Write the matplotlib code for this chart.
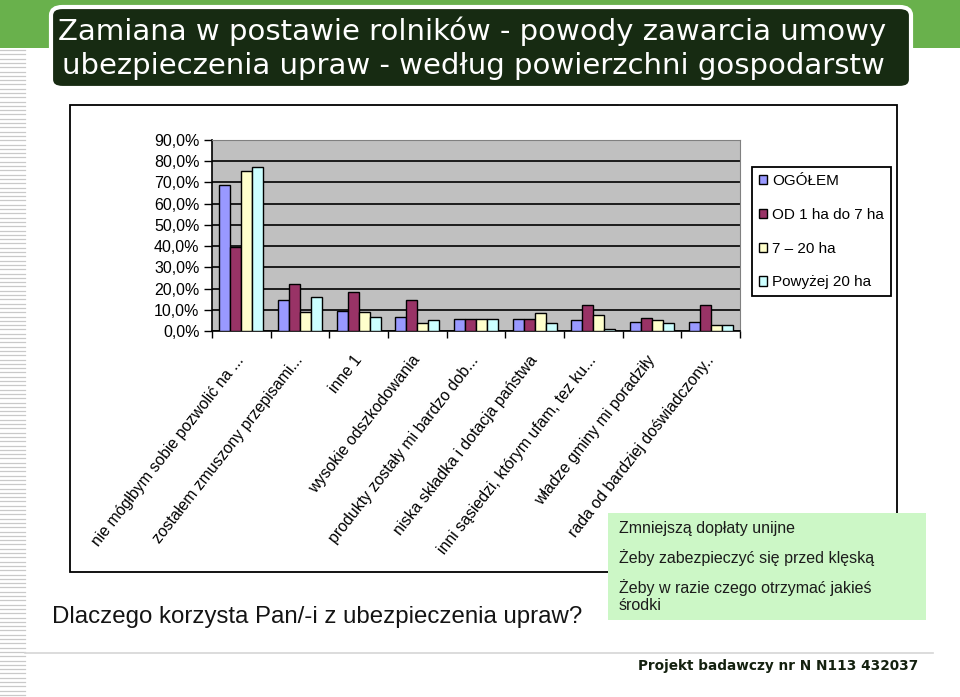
import matplotlib
matplotlib.use("Agg")
import matplotlib.pyplot as plt
import matplotlib.patches as mpatches
from matplotlib.lines import Line2D
import numpy as np

# ── Data ──────────────────────────────────────────────────
categories = [
    "nie mógłbym sobie pozwolić na ...",
    "zostałem zmuszony przepisami...",
    "inne 1",
    "wysokie odszkodowania",
    "produkty zostały mi bardzo dob...",
    "niska składka i dotacja państwa",
    "inni sąsiedzi, którym ufam, tez ku...",
    "władze gminy mi poradziły",
    "rada od bardziej doświadczony..",
]
series_names = ["OGÓŁEM", "OD 1 ha do 7 ha", "7 – 20 ha", "Powyżej 20 ha"]
ogolem = [68.9, 14.5, 9.6, 6.8, 5.7, 5.7, 5.2, 4.4, 4.4]
od_1_7 = [39.8, 22.2, 18.3, 14.5, 5.7, 5.7, 12.1, 6.0, 12.1]
od_7_20 = [75.6, 9.1, 9.1, 3.6, 5.7, 8.3, 7.5, 5.2, 3.0]
powyzej_20 = [77.2, 15.9, 6.8, 5.2, 5.7, 3.9, 0.8, 3.9, 3.0]
y_ticks = [0, 10, 20, 30, 40, 50, 60, 70, 80, 90]

title_lines = ["Zamiana w postawie rolników - powody zawarcia umowy",
               "ubezpieczenia upraw - według powierzchni gospodarstw"]
question = "Dlaczego korzysta Pan/-i z ubezpieczenia upraw?"
answers = ["Zmniejszą dopłaty unijne",
           "Żeby zabezpieczyć się przed klęską",
           "Żeby w razie czego otrzymać jakieś\nśrodki"]
footer = "Projekt badawczy nr N N113 432037"

colors = ["#9999ff", "#993366", "#ffffcc", "#ccffff"]

W, H = 960, 697
plt.rcParams["font.family"] = ["Liberation Sans", "DejaVu Sans"]

fig = plt.figure(figsize=(W / 100, H / 100), dpi=100)
fig.patch.set_facecolor("white")


def fx(px):
    return px / W


def fy(py):
    return 1 - py / H


# ── Page decoration ───────────────────────────────────────
fig.patches.append(mpatches.Rectangle((0, fy(48)), 1, 48 / H, transform=fig.transFigure,
                                      facecolor="#69b14c", edgecolor="none", zorder=0))
for yy in np.arange(50, H, 4.3):
    fig.lines.append(Line2D([0, fx(25)], [fy(yy), fy(yy)], transform=fig.transFigure,
                            color="#c9c9c9", lw=0.9, zorder=0))
fig.patches.append(mpatches.FancyBboxPatch((fx(51), fy(88)), fx(860), 81 / H,
                                           boxstyle="round,pad=0,rounding_size=0.012",
                                           transform=fig.transFigure, facecolor="#172b12",
                                           edgecolor="white", lw=3, zorder=1))
fig.text(fx(472), fy(31), title_lines[0], color="white", fontsize=21,
         family="DejaVu Sans", ha="center", va="center", zorder=3)
fig.text(fx(473), fy(66), title_lines[1], color="white", fontsize=21,
         family="DejaVu Sans", ha="center", va="center", zorder=3)

# chart-area frame
fig.patches.append(mpatches.Rectangle((fx(70), fy(572)), fx(827), 467 / H,
                                      transform=fig.transFigure, facecolor="none",
                                      edgecolor="black", lw=1.3, zorder=1))

# ── Bar chart ─────────────────────────────────────────────
ax = fig.add_axes([fx(212), fy(331), fx(528), 191 / H])
ax.set_facecolor("#c0c0c0")
x = np.arange(len(categories))
bw = 0.187
for i, (vals, c, name) in enumerate(zip([ogolem, od_1_7, od_7_20, powyzej_20], colors, series_names)):
    ax.bar(x + (i - 1.5) * bw, vals, width=bw, color=c, edgecolor="black", lw=1.0,
           label=name, zorder=3)

ax.set_xlim(-0.5, len(categories) - 0.5)
ax.set_ylim(0, 90)
ax.set_yticks(y_ticks)
ax.set_yticklabels([f"{v:.1f}%".replace(".", ",") for v in y_ticks], fontsize=11.5)
ax.yaxis.grid(True, color="black", lw=1.2, zorder=1)
ax.set_axisbelow(True)
ax.tick_params(axis="y", length=6, width=1, pad=3)

ax.set_xticks(np.arange(len(categories) + 1) - 0.5)
ax.set_xticklabels([])
ax.tick_params(axis="x", which="major", length=5, width=1, direction="out")
ax.set_xticks(x, minor=True)
ax.set_xticklabels(categories, minor=True, rotation=52, ha="right", va="center",
                   rotation_mode="anchor", fontsize=11.4)
ax.tick_params(axis="x", which="minor", length=0, pad=19)

for s in ["top", "right"]:
    ax.spines[s].set_color("#808080")
for s in ["left", "bottom"]:
    ax.spines[s].set_color("black")
    ax.spines[s].set_linewidth(1.2)

# legend
leg = fig.legend(loc="upper left", bbox_to_anchor=(fx(752), fy(167)), borderaxespad=0,
                 fontsize=11, fancybox=False, edgecolor="black", framealpha=1,
                 handlelength=0.55, handleheight=0.55, handletextpad=0.3,
                 labelspacing=1.3, borderpad=0.45)
leg.get_frame().set_linewidth(1.3)

# ── Texts below ───────────────────────────────────────────
fig.text(fx(52), fy(617), question, fontsize=17.3, color="#141414", ha="left", va="center")

fig.patches.append(mpatches.Rectangle((fx(608), fy(620)), fx(318), 107 / H,
                                      transform=fig.transFigure, facecolor="#ccf7c6",
                                      edgecolor="none", zorder=4))
ans_y = [529, 558, 596]
for t, yy in zip(answers, ans_y):
    fig.text(fx(619), fy(yy), t, fontsize=11.5, color="#1b1b1b", ha="left", va="center",
             linespacing=1.1, zorder=5)

fig.lines.append(Line2D([fx(25), fx(933)], [fy(653), fy(653)], transform=fig.transFigure,
                        color="#d5d5d5", lw=1.2, zorder=1))
fig.text(fx(918), fy(666), footer, fontsize=9.8, fontweight="bold", family="DejaVu Sans",
         color="#14210f", ha="right", va="center")

fig.savefig("out.png", dpi=100)
